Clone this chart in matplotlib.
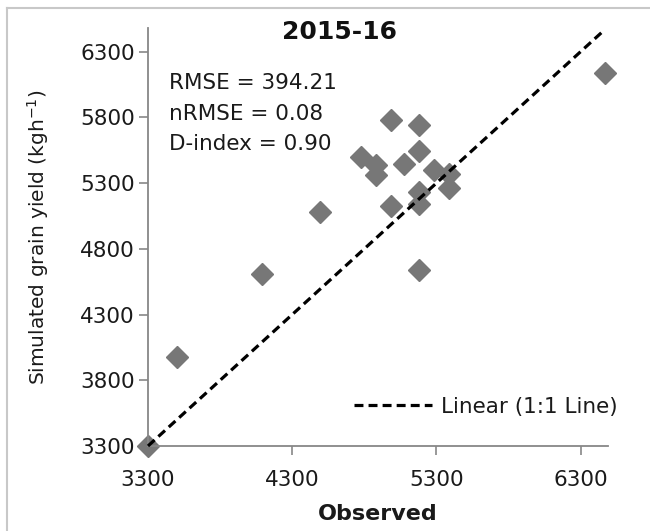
import matplotlib
matplotlib.use("Agg")
import matplotlib.pyplot as plt
from matplotlib.lines import Line2D

observed = [3300, 3500, 4090, 4490, 4780, 4880, 4880, 4985, 4985, 5075,
            5180, 5180, 5180, 5180, 5180, 5285, 5385, 5385, 6470]
simulated = [3300, 3980, 4610, 5080, 5495, 5435, 5360, 5780, 5125, 5445,
             5740, 5545, 5235, 5140, 4640, 5400, 5370, 5265, 6140]
line_x = [3300, 6450]
line_y = [3300, 6450]
ticks = [3300, 4300, 5300, 6300]
yticks = [3300, 3800, 4300, 4800, 5300, 5800, 6300]
stats = ["RMSE = 394.21", "nRMSE = 0.08", "D-index = 0.90"]

plt.rcParams['font.family'] = ['DejaVu Sans']

W, H = 650, 531
fig = plt.figure(figsize=(6.5, 5.31), dpi=100)
ax = fig.add_axes([148/W, 1 - 446/H, (608 - 148)/W, (446 - 28)/H])

# outer frame (left and top edges visible)
fig.add_artist(Line2D([7/W, 7/W], [0, 1 - 8/H], transform=fig.transFigure,
                      color='#c8c8c8', lw=1.5))
fig.add_artist(Line2D([7/W, 1], [1 - 8/H, 1 - 8/H], transform=fig.transFigure,
                      color='#c8c8c8', lw=1.5))

ax.plot(line_x, line_y, ls=(0, (2.8, 1.6)), color='black', lw=2.3,
        label='Linear (1:1 Line)', zorder=3, clip_on=False)
ax.plot(observed, simulated, ls='none', marker='D', ms=11, color='#777777',
        mec='#777777', zorder=2, clip_on=False)

ax.set_xlim(3300, 6490)
ax.set_ylim(3300, 6480)
ax.set_xticks(ticks)
ax.set_yticks(yticks)
ax.tick_params(axis='both', direction='out', length=6.5, width=1.2, color='#878787',
               labelsize=15.5, labelcolor='#1a1a1a', pad=3)
ax.tick_params(axis='x', pad=11)
for s in ['top', 'right']:
    ax.spines[s].set_visible(False)
for s in ['left', 'bottom']:
    ax.spines[s].set_color('#878787')
    ax.spines[s].set_linewidth(1.3)

ax.set_xlabel('Observed', fontsize=16, fontweight='bold', color='#1a1a1a', labelpad=10)
ax.set_ylabel('Simulated grain yield (kgh$^{-1}$)', fontsize=14.5, color='#1a1a1a')
ax.yaxis.set_label_coords((51 - 148)/460, 0.5)
fig.suptitle('2015-16', x=340/W, y=1 - 32/H, va='center', ha='center',
             fontsize=18, fontweight='bold', color='#111111')

for i, t in enumerate(stats):
    fig.text(169/W, 1 - (83 + 30.5 * i)/H, t, fontsize=15.5, color='#1a1a1a',
             va='center', ha='left')

ax.legend(loc='center left', bbox_to_anchor=(354/W, 1 - 407/H),
          bbox_transform=fig.transFigure, frameon=False, borderpad=0,
          borderaxespad=0, fontsize=15.5, handlelength=3.6, handletextpad=0.45,
          labelcolor='#1a1a1a')

fig.savefig('out.png', dpi=100)
